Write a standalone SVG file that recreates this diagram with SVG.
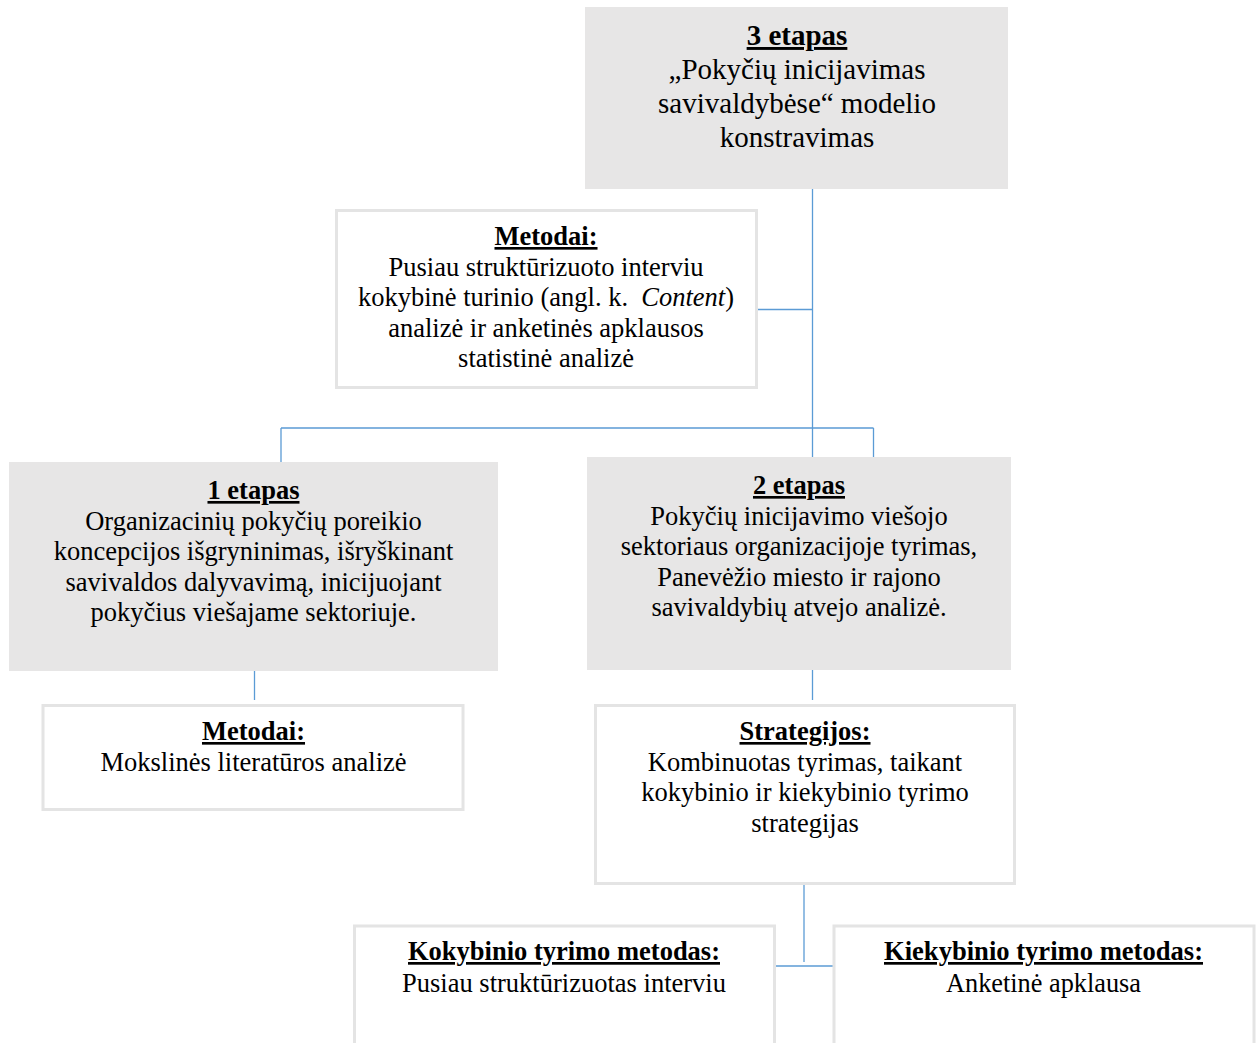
<svg xmlns="http://www.w3.org/2000/svg" width="1259" height="1043" viewBox="0 0 1259 1043">
  <style>
    text { font-family: "Liberation Serif", "Times New Roman", serif; fill: #000; text-anchor: middle; }
    .big { font-size: 29px; }
    .t { font-size: 26.5px; }
    .c { font-size: 27px; }
    .h { font-weight: bold; text-decoration: underline; }
    .stage { fill: #e7e6e6; stroke: none; }
    .info { fill: #ffffff; stroke: #e4e4e4; stroke-width: 3; }
    .link { stroke: #5b9bd5; stroke-width: 1.3; fill: none; }
  </style>

  <!-- connectors -->
  <g id="connectors">
    <path class="link" d="M812.5 189 V457"/>
    <path class="link" d="M754 309.5 H812.5"/>
    <path class="link" d="M281 428 H873.5 M281 428 V462 M873.5 428 V457"/>
    <path class="link" d="M254.5 671 V700"/>
    <path class="link" d="M812.5 670 V700"/>
    <path class="link" d="M804 884 V962"/>
    <path class="link" d="M775 966 H833"/>
  </g>

  <!-- stage 3 -->
  <g id="stage3">
    <rect class="stage" x="585" y="7" width="423" height="182"/>
    <text class="big h" x="797" y="45">3 etapas</text>
    <text class="big" x="797" y="79">„Pokyčių inicijavimas</text>
    <text class="big" x="797" y="113">savivaldybėse“ modelio</text>
    <text class="big" x="797" y="147">konstravimas</text>
  </g>

  <!-- methods of stage 3 -->
  <g id="methods3">
    <rect class="info" x="336.5" y="210.5" width="420" height="177"/>
    <text class="t h" x="546" y="245">Metodai:</text>
    <text class="t" x="546" y="275.5">Pusiau struktūrizuoto interviu</text>
    <text class="t" x="546" y="306" xml:space="preserve">kokybinė turinio (angl. k.  <tspan font-style="italic">Content</tspan>)</text>
    <text class="t" x="546" y="336.5">analizė ir anketinės apklausos</text>
    <text class="t" x="546" y="367">statistinė analizė</text>
  </g>

  <!-- stage 1 -->
  <g id="stage1">
    <rect class="stage" x="9" y="462" width="489" height="209"/>
    <text class="t h" x="253.5" y="499">1 etapas</text>
    <text class="t" x="253.5" y="529.5">Organizacinių pokyčių poreikio</text>
    <text class="t" x="253.5" y="560">koncepcijos išgryninimas, išryškinant</text>
    <text class="t" x="253.5" y="590.5">savivaldos dalyvavimą, inicijuojant</text>
    <text class="t" x="253.5" y="621">pokyčius viešajame sektoriuje.</text>
  </g>

  <!-- methods of stage 1 -->
  <g id="methods1">
    <rect class="info" x="43" y="705.5" width="420" height="104"/>
    <text class="t h" x="253.5" y="740">Metodai:</text>
    <text class="t" x="253.5" y="770.5">Mokslinės literatūros analizė</text>
  </g>

  <!-- stage 2 -->
  <g id="stage2">
    <rect class="stage" x="587" y="457" width="424" height="213"/>
    <text class="t h" x="799" y="494">2 etapas</text>
    <text class="t" x="799" y="524.5">Pokyčių inicijavimo viešojo</text>
    <text class="t" x="799" y="555">sektoriaus organizacijoje tyrimas,</text>
    <text class="t" x="799" y="585.5">Panevėžio miesto ir rajono</text>
    <text class="t" x="799" y="616">savivaldybių atvejo analizė.</text>
  </g>

  <!-- strategies -->
  <g id="strategies">
    <rect class="info" x="595.5" y="705.5" width="419" height="178"/>
    <text class="t h" x="805" y="740">Strategijos:</text>
    <text class="t" x="805" y="770.5">Kombinuotas tyrimas, taikant</text>
    <text class="t" x="805" y="801">kokybinio ir kiekybinio tyrimo</text>
    <text class="t" x="805" y="831.5">strategijas</text>
  </g>

  <!-- qualitative method -->
  <g id="qualitative">
    <rect class="info" x="354.5" y="926" width="420" height="130"/>
    <text class="c h" x="564" y="960" textLength="312" lengthAdjust="spacingAndGlyphs">Kokybinio tyrimo metodas:</text>
    <text class="c" x="564" y="992" textLength="324" lengthAdjust="spacingAndGlyphs">Pusiau struktūrizuotas interviu</text>
  </g>

  <!-- quantitative method -->
  <g id="quantitative">
    <rect class="info" x="834" y="926" width="420" height="130"/>
    <text class="c h" x="1043.5" y="960" textLength="319" lengthAdjust="spacingAndGlyphs">Kiekybinio tyrimo metodas:</text>
    <text class="c" x="1043.5" y="992" textLength="195" lengthAdjust="spacingAndGlyphs">Anketinė apklausa</text>
  </g>
</svg>
